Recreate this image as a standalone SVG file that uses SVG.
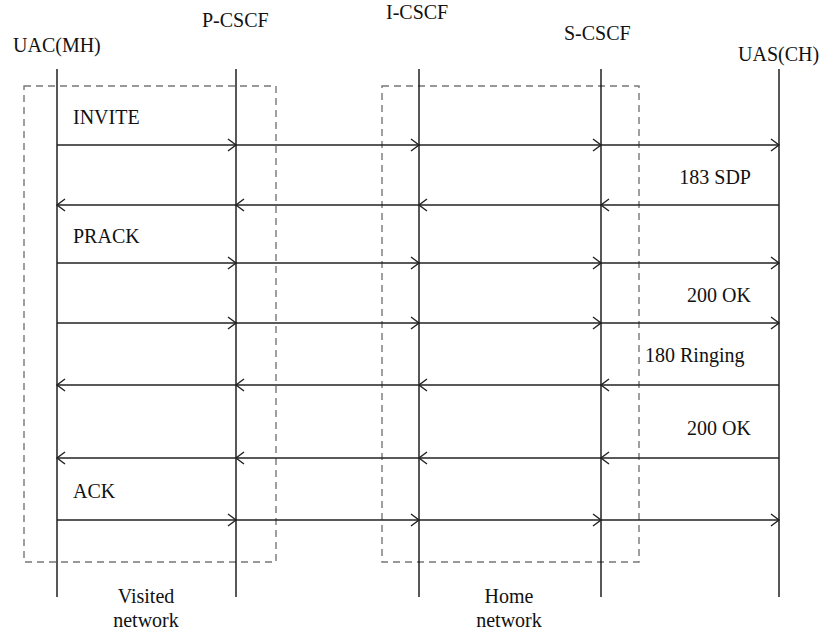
<svg xmlns="http://www.w3.org/2000/svg" width="823" height="632" viewBox="0 0 823 632" font-family="'Liberation Serif', 'Times New Roman', serif">
<defs>
<marker id="ah" markerUnits="userSpaceOnUse" markerWidth="12" markerHeight="14" refX="9" refY="7" orient="auto">
<path d="M1,1 L9,7 L1,13" fill="none" stroke="#222" stroke-width="1.4"/>
</marker>
</defs>
<rect width="823" height="632" fill="#fff"/>
<g id="visited-network">
<rect x="24" y="86" width="252" height="476" fill="none" stroke="#777" stroke-width="1.4" stroke-dasharray="7,5"/>
<text x="146" y="603" text-anchor="middle" style="font-family:'Times New Roman',serif;font-size:20px;fill:#111">Visited</text>
<text x="146" y="627" text-anchor="middle" style="font-family:'Times New Roman',serif;font-size:20px;fill:#111">network</text>
</g>
<g id="home-network">
<rect x="382" y="86" width="257" height="476" fill="none" stroke="#777" stroke-width="1.4" stroke-dasharray="7,5"/>
<text x="509" y="603" text-anchor="middle" style="font-family:'Times New Roman',serif;font-size:20px;fill:#111">Home</text>
<text x="509" y="627" text-anchor="middle" style="font-family:'Times New Roman',serif;font-size:20px;fill:#111">network</text>
</g>
<g id="uac">
<text x="13" y="52" style="font-family:'Times New Roman',serif;font-size:20px;fill:#111">UAC(MH)</text>
<line x1="57" y1="69" x2="57" y2="597" stroke="#111" stroke-width="1.4"/>
</g>
<g id="pcscf">
<text x="202" y="27" style="font-family:'Times New Roman',serif;font-size:20px;fill:#111">P-CSCF</text>
<line x1="236" y1="69" x2="236" y2="597" stroke="#111" stroke-width="1.4"/>
</g>
<g id="icscf">
<text x="386" y="19" style="font-family:'Times New Roman',serif;font-size:20px;fill:#111">I-CSCF</text>
<line x1="419" y1="69" x2="419" y2="597" stroke="#111" stroke-width="1.4"/>
</g>
<g id="scscf">
<text x="564" y="40" style="font-family:'Times New Roman',serif;font-size:20px;fill:#111">S-CSCF</text>
<line x1="601" y1="69" x2="601" y2="597" stroke="#111" stroke-width="1.4"/>
</g>
<g id="uas">
<text x="738" y="61" style="font-family:'Times New Roman',serif;font-size:20px;fill:#111">UAS(CH)</text>
<line x1="779" y1="69" x2="779" y2="597" stroke="#111" stroke-width="1.4"/>
</g>
<g id="connectors" stroke="#222" stroke-width="1.4" fill="none" marker-end="url(#ah)">
<line x1="57" y1="145" x2="236" y2="145"/>
<line x1="236" y1="145" x2="419" y2="145"/>
<line x1="419" y1="145" x2="601" y2="145"/>
<line x1="601" y1="145" x2="779" y2="145"/>

<line x1="779" y1="205" x2="601" y2="205"/>
<line x1="601" y1="205" x2="419" y2="205"/>
<line x1="419" y1="205" x2="236" y2="205"/>
<line x1="236" y1="205" x2="57" y2="205"/>

<line x1="57" y1="263" x2="236" y2="263"/>
<line x1="236" y1="263" x2="419" y2="263"/>
<line x1="419" y1="263" x2="601" y2="263"/>
<line x1="601" y1="263" x2="779" y2="263"/>

<line x1="57" y1="323" x2="236" y2="323"/>
<line x1="236" y1="323" x2="419" y2="323"/>
<line x1="419" y1="323" x2="601" y2="323"/>
<line x1="601" y1="323" x2="779" y2="323"/>

<line x1="779" y1="385" x2="601" y2="385"/>
<line x1="601" y1="385" x2="419" y2="385"/>
<line x1="419" y1="385" x2="236" y2="385"/>
<line x1="236" y1="385" x2="57" y2="385"/>

<line x1="779" y1="458" x2="601" y2="458"/>
<line x1="601" y1="458" x2="419" y2="458"/>
<line x1="419" y1="458" x2="236" y2="458"/>
<line x1="236" y1="458" x2="57" y2="458"/>

<line x1="57" y1="520" x2="236" y2="520"/>
<line x1="236" y1="520" x2="419" y2="520"/>
<line x1="419" y1="520" x2="601" y2="520"/>
<line x1="601" y1="520" x2="779" y2="520"/>
</g>
<g id="message-labels">
<text x="73" y="124" style="font-family:'Times New Roman',serif;font-size:20px;fill:#111">INVITE</text>
<text x="751" y="184" text-anchor="end" style="font-family:'Times New Roman',serif;font-size:20px;fill:#111">183 SDP</text>
<text x="73" y="243" style="font-family:'Times New Roman',serif;font-size:20px;fill:#111">PRACK</text>
<text x="751" y="302" text-anchor="end" style="font-family:'Times New Roman',serif;font-size:20px;fill:#111">200 OK</text>
<text x="645" y="362" style="font-family:'Times New Roman',serif;font-size:20px;fill:#111">180 Ringing</text>
<text x="751" y="435" text-anchor="end" style="font-family:'Times New Roman',serif;font-size:20px;fill:#111">200 OK</text>
<text x="73" y="498" style="font-family:'Times New Roman',serif;font-size:20px;fill:#111">ACK</text>
</g>
</svg>
